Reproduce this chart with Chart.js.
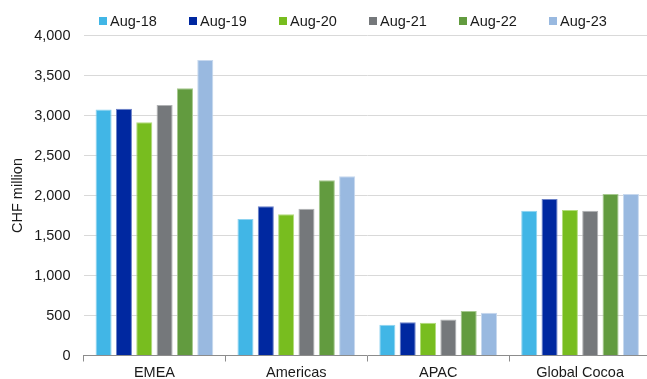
<!DOCTYPE html>
<html>
<head>
<meta charset="utf-8">
<script src="https://cdn.jsdelivr.net/npm/chart.js@4/dist/chart.umd.min.js"></script>
<style>
  html, body { margin: 0; padding: 0; background: #fff; overflow: hidden; }
  #wrap { position: relative; width: 651px; height: 379px; }
  #legend { position: absolute; top: 12px; left: 99px; display: flex;
            font: 14.5px "Liberation Sans", Arial, sans-serif; color: #1a1a1a; }
  .item { width: 90px; display: flex; align-items: center; height: 18px; }
  .swatch { width: 8px; height: 8px; margin-right: 3px; flex: none; }
</style>
</head>
<body>
<div id="wrap">
  <canvas id="chart" width="651" height="379"></canvas>
  <div id="legend"></div>
</div>
<script>
// Regions on the category axis
const categories = ['EMEA', 'Americas', 'APAC', 'Global Cocoa'];

// Fiscal year ends (one series each)
const seriesLabels = ['Aug-18', 'Aug-19', 'Aug-20', 'Aug-21', 'Aug-22', 'Aug-23'];

// Sales volumes per region, CHF million
const aug18 = [3075, 1705, 385, 1810];
const aug19 = [3085, 1865, 415, 1955];
const aug20 = [2915, 1765, 410, 1820];
const aug21 = [3130, 1835, 450, 1810];
const aug22 = [3340, 2190, 555, 2020];
const aug23 = [3695, 2240, 535, 2020];

// Y axis ticks
const yTicks = [0, 500, 1000, 1500, 2000, 2500, 3000, 3500, 4000];

const seriesValues = [aug18, aug19, aug20, aug21, aug22, aug23];
const seriesColors = ['#41b6e6', '#0028a0', '#78bd1f', '#75787b', '#629b3f', '#99b9e0'];
const seriesEdges  = ['#8ed3f0', '#6b80c8', '#b3dc7c', '#b0b2b4', '#a6c98f', '#c7d8ee'];

const font = { family: '"Liberation Sans", Arial, sans-serif', size: 14.5 };

// Legend row
const legend = document.getElementById('legend');
seriesLabels.forEach((label, i) => {
  const item = document.createElement('div');
  item.className = 'item';
  const sw = document.createElement('span');
  sw.className = 'swatch';
  sw.style.background = seriesColors[i];
  const tx = document.createElement('span');
  tx.textContent = label;
  item.appendChild(sw);
  item.appendChild(tx);
  legend.appendChild(item);
});

new Chart(document.getElementById('chart'), {
  type: 'bar',
  data: {
    labels: categories,
    datasets: seriesLabels.map((label, i) => ({
      label,
      data: seriesValues[i],
      backgroundColor: seriesColors[i],
      borderColor: seriesEdges[i],
      borderWidth: 1,
      barPercentage: 0.79,
      categoryPercentage: 0.86
    }))
  },
  options: {
    responsive: false,
    animation: false,
    layout: { padding: { left: 5, right: 0, top: 35.5, bottom: 1 } },
    plugins: {
      legend: { display: false },
      tooltip: { enabled: false }
    },
    scales: {
      x: {
        afterFit: (s) => { s.height = 22.5; },
        grid: {
          offset: true,
          drawOnChartArea: false,
          tickLength: 6,
          color: '#8c8c8c'
        },
        border: { color: '#8c8c8c', width: 1 },
        ticks: { font: { ...font, lineHeight: 1 }, color: '#1a1a1a', padding: 4 }
      },
      y: {
        min: 0,
        max: 4000,
        afterFit: (s) => { s.width = 78.5; },
        afterBuildTicks: (scale) => { scale.ticks = yTicks.map(v => ({ value: v })); },
        grid: {
          drawTicks: false,
          color: (ctx) => ctx.tick && ctx.tick.value === 0 ? 'rgba(0,0,0,0)' : '#d9d9d9'
        },
        border: { display: false },
        ticks: {
          font,
          color: '#1a1a1a',
          padding: 13,
          callback: (v) => Number(v).toLocaleString('en-US')
        },
        title: {
          display: true,
          text: 'CHF million',
          font,
          color: '#1a1a1a',
          padding: { top: 4, bottom: 8 }
        }
      }
    }
  }
});
</script>
</body>
</html>
